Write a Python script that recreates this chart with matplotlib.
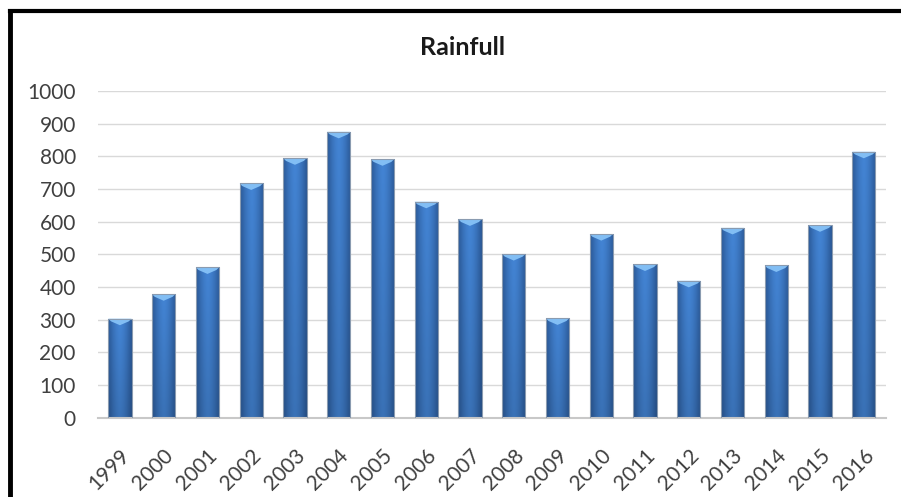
import numpy as np
import matplotlib.pyplot as plt
import matplotlib.transforms as mtransforms
from matplotlib.patches import Polygon
from matplotlib.lines import Line2D

years = [str(y) for y in range(1999, 2017)]
rainfall = [303, 378, 460, 717, 794, 875, 791, 661, 607, 501,
            304, 562, 469, 419, 581, 466, 589, 814]
yticks = list(range(0, 1001, 100))

plt.rcParams['font.family'] = ['Lato', 'DejaVu Sans']

fig = plt.figure(figsize=(9.01, 4.97), dpi=100)
ax = fig.add_axes([0.1088, 0.1596, 0.8742, 0.6574])

# horizontal shading across each bar: dark edges, lighter middle
dark = np.array([0x2a, 0x58, 0x96]) / 255
mid = np.array([0x43, 0x84, 0xd4]) / 255
u = np.linspace(-1, 1, 40)
w = 1 - np.abs(u) ** 1.6
row = dark[None, :] * (1 - w[:, None]) + mid[None, :] * w[:, None]
v = np.linspace(0, 1, 60)[:, None, None]
grad = row[None, :, :] * (0.86 + 0.14 * v)  # a bit darker toward the base
grad = np.clip(grad, 0, 1)

width = 0.53
x = np.arange(len(years))
bars = ax.bar(x, rainfall, width=width, facecolor='none',
              edgecolor='#8a9bb0', linewidth=0.8, zorder=3)

for xi, h, b in zip(x, rainfall, bars):
    x0, x1 = xi - width / 2, xi + width / 2
    im = ax.imshow(grad, extent=[x0, x1, 0, h], origin='lower',
                   aspect='auto', zorder=2, interpolation='bilinear')
    im.set_clip_path(b)
    # bevel highlight on the top face
    tri = Polygon([[x0, h], [x1, h], [x1 - 0.06, h - 8],
                   [xi, h - 20], [x0 + 0.06, h - 8]],
                  closed=True, facecolor='#86c2f7', edgecolor='none',
                  alpha=0.95, zorder=2.5)
    ax.add_patch(tri)

ax.set_xlim(-0.5, len(years) - 0.5)
ax.set_ylim(0, 1000)
ax.set_yticks(yticks)
ax.set_yticklabels([str(t) for t in yticks])
ax.set_xticks(x)
ax.set_xticklabels(years, rotation=45, ha='right', va='top')

ax.yaxis.grid(True, color='#d9d9d9', linewidth=1.0, zorder=0)
ax.set_axisbelow(True)
for s in ['top', 'right', 'left']:
    ax.spines[s].set_visible(False)
ax.spines['bottom'].set_color('#c8c8c8')
ax.spines['bottom'].set_linewidth(1.5)
ax.tick_params(axis='both', length=0, labelsize=15, colors='#404040')
ax.tick_params(axis='y', pad=16)
ax.tick_params(axis='x', pad=14)

# nudge the slanted year labels right and down
shift = mtransforms.ScaledTranslation(10 / 72, -6 / 72, fig.dpi_scale_trans)
for lbl in ax.get_xticklabels():
    lbl.set_transform(lbl.get_transform() + shift)

fig.text(0.513, 0.905, 'Rainfull', ha='center', va='center',
         fontsize=18, fontweight='bold', color='#1a1a1a')

# frame edges around the chart area
fig.add_artist(Line2D([0.0111, 1.0], [0.977, 0.977], color='black',
                      linewidth=3, transform=fig.transFigure))
fig.add_artist(Line2D([0.0111, 0.0111], [0.0, 0.977], color='black',
                      linewidth=3.5, transform=fig.transFigure))

fig.savefig('out.png', dpi=100)
